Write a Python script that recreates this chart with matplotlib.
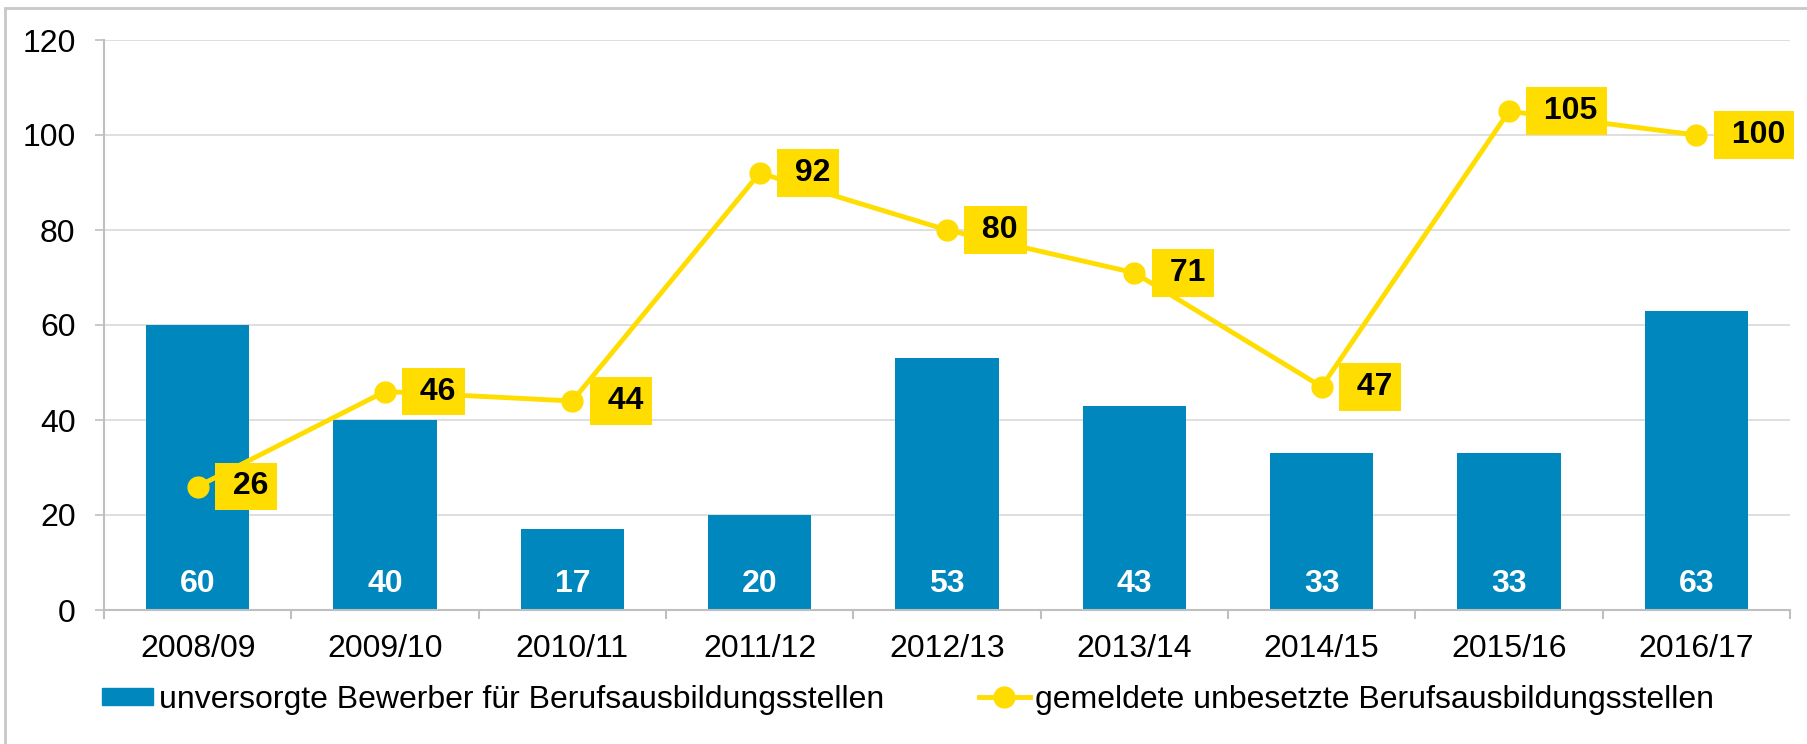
import numpy as np
import matplotlib
matplotlib.use("Agg")
import matplotlib.pyplot as plt
from matplotlib.lines import Line2D
from matplotlib.patches import Patch, Rectangle

plt.rcParams['font.family'] = ['Liberation Sans', 'DejaVu Sans']

years = ["2008/09", "2009/10", "2010/11", "2011/12", "2012/13",
         "2013/14", "2014/15", "2015/16", "2016/17"]
bewerber = [60, 40, 17, 20, 53, 43, 33, 33, 63]
stellen = [26, 46, 44, 92, 80, 71, 47, 105, 100]

blue = "#0087BD"
yellow = "#FFDD00"
grey = "#BFBFBF"
fs = 23

fig = plt.figure(figsize=(18.08, 7.44), dpi=100)
ax = fig.add_axes([104/1808, 1 - 610/744, (1790 - 104)/1808, 570/744])

x = np.arange(len(years))
ax.bar(x, bewerber, width=0.55, color=blue, zorder=2)
ax.plot(x, stellen, color=yellow, lw=3.5, marker="o", markersize=15, zorder=3)

# white value labels at the foot of the bars
for xi, v in zip(x, bewerber):
    ax.annotate(str(v), (xi, 0), xytext=(0, 19), textcoords="offset points",
                ha="center", va="center", color="white", fontsize=fs,
                fontweight="bold", zorder=4)

# yellow boxed labels to the right of the markers
for xi, v in zip(x, stellen):
    ax.annotate(" " + str(v), (xi, v), xytext=(19, 0), textcoords="offset points",
                ha="left", va="center", color="black", fontsize=fs,
                fontweight="bold", zorder=5,
                bbox=dict(boxstyle="square,pad=0.28", fc=yellow, ec="none"))

ax.set_xlim(-0.5, len(years) - 0.5)
ax.set_ylim(0, 120)
ax.set_yticks(range(0, 121, 20))
ax.set_xticks(x)
ax.set_xticklabels(years)
ax.set_xticks(np.arange(-0.5, len(years), 1), minor=True)

ax.grid(axis="y", color="#D9D9D9", lw=1.2, zorder=0)
ax.set_axisbelow(True)
for side in ["top", "right"]:
    ax.spines[side].set_visible(False)
for side in ["left", "bottom"]:
    ax.spines[side].set_color(grey)
    ax.spines[side].set_linewidth(1.5)

ax.tick_params(axis="y", length=6.5, width=1.2, color=grey, labelsize=fs, pad=14)
ax.tick_params(axis="x", which="major", length=0, labelsize=fs, pad=17)
ax.tick_params(axis="x", which="minor", length=6.5, width=1.5, color=grey)

h1 = Patch(color=blue)
h2 = Line2D([], [], color=yellow, lw=3.5, marker="o", markersize=15)
leg1 = fig.legend([h1], ["unversorgte Bewerber für Berufsausbildungsstellen"],
                  loc="center left", bbox_to_anchor=(73/1808, 1 - 700/744),
                  frameon=False, fontsize=fs, handlelength=1.6, handleheight=0.45,
                  handletextpad=0.2)
leg2 = fig.legend([h2], ["gemeldete unbesetzte Berufsausbildungsstellen"],
                  loc="center left", bbox_to_anchor=(950/1808, 1 - 700/744),
                  frameon=False, fontsize=fs, handlelength=1.6,
                  handletextpad=0.15)

# thin outer frame, visible on top and left only
fig.patches.append(Rectangle((5/1808, -0.1), 1.2, 1.1 - 8/744,
                             transform=fig.transFigure, fill=False,
                             ec="#C8C8C8", lw=2))

fig.savefig("out.png", dpi=100)
